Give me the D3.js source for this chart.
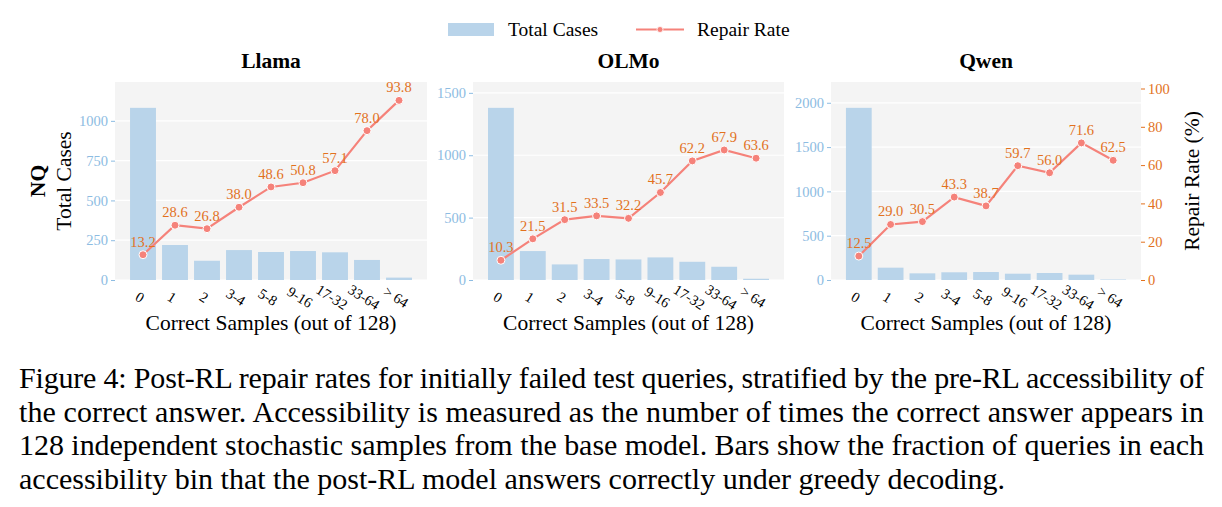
<!DOCTYPE html>
<html>
<head>
<meta charset="utf-8">
<script src="https://cdn.jsdelivr.net/npm/d3@7"></script>
<style>
  body { margin: 0; background: #fff; }
  svg text { font-family: "Liberation Serif", "Times New Roman", serif; }
</style>
</head>
<body>
<svg id="chart" width="1222" height="507"></svg>
<script>
const bins = ["0", "1", "2", "3-4", "5-8", "9-16", "17-32", "33-64", "> 64"];
const models = ["Llama", "OLMo", "Qwen"];

const llamaCases = [1082, 220, 121, 188, 176, 182, 174, 126, 15];
const llamaRate = [13.2, 28.6, 26.8, 38.0, 48.6, 50.8, 57.1, 78.0, 93.8];
const olmoCases = [1380, 232, 125, 168, 165, 181, 146, 106, 10];
const olmoRate = [10.3, 21.5, 31.5, 33.5, 32.2, 45.7, 62.2, 67.9, 63.6];
const qwenCases = [1943, 139, 75, 87, 90, 71, 79, 60, 6];
const qwenRate = [12.5, 29.0, 30.5, 43.3, 38.7, 59.7, 56.0, 71.6, 62.5];

const leftTicks = [[0, 250, 500, 750, 1000], [0, 500, 1000, 1500], [0, 500, 1000, 1500, 2000]];
const rateTicks = [0, 20, 40, 60, 80, 100];

const captionLines = [
  "Figure 4: Post-RL repair rates for initially failed test queries, stratified by the pre-RL accessibility of",
  "the correct answer. Accessibility is measured as the number of times the correct answer appears in",
  "128 independent stochastic samples from the base model. Bars show the fraction of queries in each",
  "accessibility bin that the post-RL model answers correctly under greedy decoding."
];

const panels = [
  { name: models[0], cases: llamaCases, rate: llamaRate, ticks: leftTicks[0], x0: 115, x1: 427 },
  { name: models[1], cases: olmoCases, rate: olmoRate, ticks: leftTicks[1], x0: 473, x1: 784 },
  { name: models[2], cases: qwenCases, rate: qwenRate, ticks: leftTicks[2], x0: 831, x1: 1141 }
];

const barColor = "#b9d4ea";
const lineColor = "#f5827a";
const labelColor = "#e2711d";
const leftTickColor = "#8dbce2";
const plotTop = 82, plotBottom = 280;

const svg = d3.select("#chart");

panels.forEach((p, i) => {
  const g = svg.append("g");
  const x = d3.scaleBand().domain(bins).range([p.x0, p.x1]).paddingInner(0.19).paddingOuter(0.47);
  const y = d3.scaleLinear().domain([0, d3.max(p.cases) * 1.15]).range([plotBottom, plotTop]);
  const yr = d3.scaleLinear().domain([0, 103.4]).range([plotBottom, plotTop]);

  g.append("rect")
    .attr("x", p.x0).attr("y", plotTop)
    .attr("width", p.x1 - p.x0).attr("height", plotBottom - plotTop)
    .attr("fill", "#f4f4f4");

  // grid
  g.selectAll(".grid").data(p.ticks).enter().append("line")
    .attr("x1", p.x0).attr("x2", p.x1)
    .attr("y1", d => y(d)).attr("y2", d => y(d))
    .attr("stroke", "#fff").attr("stroke-width", 1.2);

  // bars
  g.selectAll(".bar").data(p.cases).enter().append("rect")
    .attr("x", (d, j) => x(bins[j]))
    .attr("y", d => y(d))
    .attr("width", x.bandwidth())
    .attr("height", d => plotBottom - y(d))
    .attr("fill", barColor);

  // left axis
  const ax = g.append("g").attr("transform", `translate(${p.x0},0)`)
    .call(d3.axisLeft(y).tickValues(p.ticks).tickFormat(d3.format("d")).tickSize(4).tickPadding(3));
  ax.select(".domain").remove();
  ax.selectAll("line").attr("stroke", leftTickColor);
  ax.selectAll("text").attr("fill", leftTickColor).style("font-size", "14.5px")
    .style("font-family", "Liberation Serif");

  // x tick labels
  g.selectAll(".xl").data(bins).enter().append("text")
    .attr("transform", d => `translate(${x(d) + x.bandwidth() / 2 - 3},${297}) rotate(32)`)
    .attr("text-anchor", "middle")
    .attr("dy", "0.35em")
    .style("font-size", "14.5px")
    .text(d => d);

  // repair rate line
  const pts = p.rate.map((r, j) => [x(bins[j]) + x.bandwidth() / 2, yr(r)]);
  g.append("path").attr("d", d3.line()(pts))
    .attr("fill", "none").attr("stroke", lineColor).attr("stroke-width", 2.2);
  g.selectAll(".pt").data(pts).enter().append("circle")
    .attr("cx", d => d[0]).attr("cy", d => d[1]).attr("r", 4)
    .attr("fill", lineColor).attr("stroke", "#fff").attr("stroke-width", 1);
  g.selectAll(".lbl").data(p.rate).enter().append("text")
    .attr("x", (d, j) => pts[j][0])
    .attr("y", (d, j) => pts[j][1] - 8)
    .attr("text-anchor", "middle")
    .attr("fill", labelColor)
    .style("font-size", "14.5px")
    .text(d => d.toFixed(1));

  // title
  g.append("text").attr("x", (p.x0 + p.x1) / 2).attr("y", 68)
    .attr("text-anchor", "middle").style("font-size", "21.5px").style("font-weight", "bold")
    .text(p.name);

  // x label
  g.append("text").attr("x", (p.x0 + p.x1) / 2).attr("y", 330)
    .attr("text-anchor", "middle").style("font-size", "21.5px")
    .text("Correct Samples (out of 128)");

  if (i === 0) {
    g.append("text").attr("transform", `translate(45,${(plotTop + plotBottom) / 2}) rotate(-90)`)
      .attr("text-anchor", "middle").style("font-size", "21.5px").style("font-weight", "bold")
      .text("NQ");
    g.append("text").attr("transform", `translate(71,${(plotTop + plotBottom) / 2}) rotate(-90)`)
      .attr("text-anchor", "middle").style("font-size", "21.5px")
      .text("Total Cases");
  }

  if (i === 2) {
    const ar = g.append("g").attr("transform", `translate(${p.x1},0)`)
      .call(d3.axisRight(yr).tickValues(rateTicks).tickSize(4).tickPadding(3));
    ar.select(".domain").remove();
    ar.selectAll("line").attr("stroke", labelColor);
    ar.selectAll("text").attr("fill", labelColor).style("font-size", "14.5px")
      .style("font-family", "Liberation Serif");
    g.append("text").attr("transform", `translate(1199,${(plotTop + plotBottom) / 2}) rotate(-90)`)
      .attr("text-anchor", "middle").style("font-size", "21.5px")
      .text("Repair Rate (%)");
  }
});

// legend
const lg = svg.append("g");
lg.append("rect").attr("x", 448).attr("y", 23).attr("width", 46).attr("height", 13).attr("fill", barColor);
lg.append("text").attr("x", 508).attr("y", 36).style("font-size", "19.5px").text("Total Cases");
lg.append("line").attr("x1", 636).attr("x2", 684).attr("y1", 29.5).attr("y2", 29.5)
  .attr("stroke", lineColor).attr("stroke-width", 2);
lg.append("circle").attr("cx", 660).attr("cy", 29.5).attr("r", 3).attr("fill", lineColor)
  .attr("stroke", "#fff").attr("stroke-width", 0.8);
lg.append("text").attr("x", 697).attr("y", 36).style("font-size", "19.5px").text("Repair Rate");

// caption, justified lines
const cap = svg.append("g");
captionLines.forEach((t, k) => {
  const txt = cap.append("text").attr("x", 19).attr("y", 388 + k * 33.5)
    .style("font-size", "30px").text(t);
  if (k < captionLines.length - 1) {
    txt.attr("textLength", 1185).attr("lengthAdjust", "spacing");
  }
});
</script>
</body>
</html>
